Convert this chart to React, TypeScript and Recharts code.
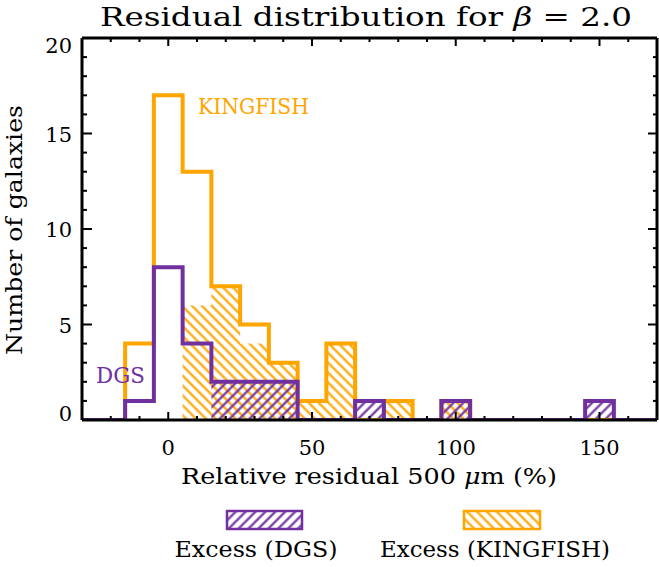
import React from "react";
import { Area, ComposedChart, Line, XAxis, YAxis } from "recharts";

// histogram bins (centre of each 10% bin)
const binCenters = [-10, 0, 10, 20, 30, 40, 50, 60, 70, 80, 90, 100, 110, 120, 130, 140, 150, 160];
const kingfishCounts = [4, 17, 13, 7, 5, 3, 1, 4, 0, 1, 0, 1, 0, 0, 0, 0, 0, 0];
const kingfishExcess = [0, 0, 6, 7, 4, 3, 1, 4, 0, 1, 0, 1, 0, 0, 0, 0, 0, 0];
const dgsCounts = [1, 8, 4, 2, 2, 2, 0, 0, 1, 0, 0, 1, 0, 0, 0, 0, 1, 0];
const dgsExcess = [0, 0, 0, 2, 2, 2, 0, 0, 1, 0, 0, 1, 0, 0, 0, 0, 1, 0];

const xTicks = [-20, -10, 0, 10, 20, 30, 40, 50, 60, 70, 80, 90, 100, 110, 120, 130, 140, 150, 160];
const xLabels = [0, 50, 100, 150];
const yTicks = [0, 1, 2, 3, 4, 5, 6, 7, 8, 9, 10, 11, 12, 13, 14, 15, 16, 17, 18, 19, 20];
const yLabels = [0, 5, 10, 15, 20];

const ORANGE = "#FFA500";
const PURPLE = "#7030A0";
const FONT = "'DejaVu Serif', serif";
const BIN = 10;
const W = 659;
const H = 567;

// step table: one row per left bin edge, padded with zeros to the axis ends
const stepData = [
  { x: -30, kTot: 0, kExc: 0, dTot: 0, dExc: 0 },
  ...binCenters.map((c, i) => ({
    x: c - BIN / 2,
    kTot: kingfishCounts[i],
    kExc: kingfishExcess[i],
    dTot: dgsCounts[i],
    dExc: dgsExcess[i],
  })),
  { x: binCenters[binCenters.length - 1] + BIN / 2, kTot: 0, kExc: 0, dTot: 0, dExc: 0 },
  { x: 170, kTot: 0, kExc: 0, dTot: 0, dExc: 0 },
];

const BottomTick = (props: any) => {
  const { x, y, payload } = props;
  const major = xLabels.includes(payload.value);
  return (
    <g>
      <line x1={x} x2={x} y1={y} y2={y - (major ? 8 : 4)} stroke="#000" strokeWidth={2} />
      {major && (
        <text x={x} y={y + 35} textAnchor="middle" fontFamily={FONT} fontSize={21} fill="#000">
          {payload.value}
        </text>
      )}
    </g>
  );
};

const TopTick = (props: any) => {
  const { x, y, payload } = props;
  const major = xLabels.includes(payload.value);
  return <line x1={x} x2={x} y1={y} y2={y + (major ? 8 : 4)} stroke="#000" strokeWidth={2} />;
};

const LeftTick = (props: any) => {
  const { x, y, payload } = props;
  const major = yLabels.includes(payload.value);
  const shift = payload.value === 20 ? 15 : payload.value === 0 ? 1 : 8;
  return (
    <g>
      <line x1={x} x2={x + (major ? 10 : 5)} y1={y} y2={y} stroke="#000" strokeWidth={2} />
      {major && (
        <text x={x - 10} y={y + shift} textAnchor="end" fontFamily={FONT} fontSize={21} fill="#000">
          {payload.value}
        </text>
      )}
    </g>
  );
};

const RightTick = (props: any) => {
  const { x, y, payload } = props;
  const major = yLabels.includes(payload.value);
  return <line x1={x} x2={x - (major ? 9 : 4)} y1={y} y2={y} stroke="#000" strokeWidth={2} />;
};

const frame = { stroke: "#000", strokeWidth: 3 };

function Hatch({ id, color, angle }: { id: string; color: string; angle: number }) {
  return (
    <pattern id={id} patternUnits="userSpaceOnUse" width={7} height={7} patternTransform={`rotate(${angle})`}>
      <line x1={3.5} y1={0} x2={3.5} y2={7} stroke={color} strokeWidth={2.2} />
    </pattern>
  );
}

export default function App() {
  // fixed at the page origin: no scrollbars, and page coordinates everywhere
  return (
    <div style={{ position: "fixed", left: 0, top: 0, width: W, height: H, background: "#fff" }}>
      <ComposedChart
        width={W}
        height={H}
        data={stepData}
        margin={{ top: 37, right: 1, left: 0, bottom: 146 }}
      >
        <defs>
          <Hatch id="hatch-k" color={ORANGE} angle={-45} />
          <Hatch id="hatch-d" color={PURPLE} angle={45} />
        </defs>
        <Area
          xAxisId="bottom"
          yAxisId="left"
          type="stepAfter"
          dataKey="kExc"
          stroke="none"
          fill="url(#hatch-k)"
          fillOpacity={1}
          isAnimationActive={false}
        />
        <Area
          xAxisId="bottom"
          yAxisId="left"
          type="stepAfter"
          dataKey="dExc"
          stroke="none"
          fill="url(#hatch-d)"
          fillOpacity={1}
          isAnimationActive={false}
        />
        <Line
          xAxisId="bottom"
          yAxisId="left"
          type="stepAfter"
          dataKey="kTot"
          stroke={ORANGE}
          strokeWidth={4}
          strokeLinejoin="miter"
          dot={false}
          activeDot={false}
          isAnimationActive={false}
        />
        <Line
          xAxisId="bottom"
          yAxisId="left"
          type="stepAfter"
          dataKey="dTot"
          stroke={PURPLE}
          strokeWidth={4}
          strokeLinejoin="miter"
          dot={false}
          activeDot={false}
          isAnimationActive={false}
        />
        <XAxis
          xAxisId="bottom"
          type="number"
          dataKey="x"
          domain={[-30, 170]}
          allowDataOverflow
          ticks={xTicks}
          interval={0}
          height={1}
          tickSize={0}
          tickMargin={0}
          tickLine={false}
          axisLine={frame}
          tick={BottomTick}
        />
        <XAxis
          xAxisId="top"
          orientation="top"
          type="number"
          dataKey="x"
          domain={[-30, 170]}
          allowDataOverflow
          ticks={xTicks}
          interval={0}
          height={1}
          tickSize={0}
          tickMargin={0}
          tickLine={false}
          axisLine={frame}
          tick={TopTick}
        />
        <YAxis
          yAxisId="left"
          type="number"
          domain={[0, 20]}
          allowDataOverflow
          ticks={yTicks}
          interval={0}
          width={82}
          tickSize={0}
          tickMargin={0}
          tickLine={false}
          axisLine={frame}
          tick={LeftTick}
        />
        <YAxis
          yAxisId="right"
          orientation="right"
          type="number"
          domain={[0, 20]}
          allowDataOverflow
          ticks={yTicks}
          interval={0}
          width={1}
          tickSize={0}
          tickMargin={0}
          tickLine={false}
          axisLine={frame}
          tick={RightTick}
        />
      </ComposedChart>

      <svg
        width={W}
        height={H}
        style={{ position: "absolute", left: 0, top: 0, pointerEvents: "none" }}
        fontFamily={FONT}
      >
        <defs>
          <Hatch id="leg-hatch-k" color={ORANGE} angle={-45} />
          <Hatch id="leg-hatch-d" color={PURPLE} angle={45} />
        </defs>
        <text x={366} y={26} textAnchor="middle" fontSize={26} textLength={532} lengthAdjust="spacingAndGlyphs" fill="#000">
          Residual distribution for <tspan fontStyle="italic">β</tspan> = 2.0
        </text>
        <text
          x={22}
          y={230}
          transform="rotate(-90 22 230)"
          textAnchor="middle"
          fontSize={22}
          textLength={250}
          lengthAdjust="spacingAndGlyphs"
          fill="#000"
        >
          Number of galaxies
        </text>
        <text x={369} y={484} textAnchor="middle" fontSize={22} textLength={376} lengthAdjust="spacingAndGlyphs" fill="#000">
          Relative residual 500 <tspan fontStyle="italic">μ</tspan>m (%)
        </text>
        <text x={198} y={114} fontSize={22} textLength={111} lengthAdjust="spacingAndGlyphs" fill={ORANGE}>
          KINGFISH
        </text>
        <text x={96} y={383} fontSize={22} textLength={49} lengthAdjust="spacingAndGlyphs" fill={PURPLE}>
          DGS
        </text>
        <rect x={227} y={511} width={75} height={18} fill="url(#leg-hatch-d)" stroke={PURPLE} strokeWidth={2.5} />
        <rect x={464} y={511} width={76} height={18} fill="url(#leg-hatch-k)" stroke={ORANGE} strokeWidth={2.5} />
        <text x={256} y={557} textAnchor="middle" fontSize={22} textLength={163} lengthAdjust="spacingAndGlyphs" fill="#000">
          Excess (DGS)
        </text>
        <text x={495} y={557} textAnchor="middle" fontSize={22} textLength={230} lengthAdjust="spacingAndGlyphs" fill="#000">
          Excess (KINGFISH)
        </text>
      </svg>
    </div>
  );
}
